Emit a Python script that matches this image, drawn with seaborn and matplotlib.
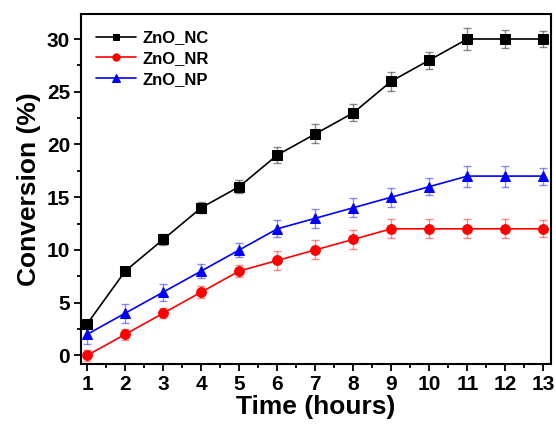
import matplotlib
matplotlib.use("Agg")
import matplotlib.pyplot as plt
import seaborn as sns
import pandas as pd
import numpy as np
from matplotlib.ticker import MultipleLocator

hours = [1, 2, 3, 4, 5, 6, 7, 8, 9, 10, 11, 12, 13]
nc = [3, 8, 11, 14, 16, 19, 21, 23, 26, 28, 30, 30, 30]
nr = [0, 2, 4, 6, 8, 9, 10, 11, 12, 12, 12, 12, 12]
np_ = [2, 4, 6, 8, 10, 12, 13, 14, 15, 16, 17, 17, 17]
nc_err = [0.4, 0.4, 0.5, 0.5, 0.6, 0.8, 0.9, 0.8, 0.9, 0.8, 1.0, 0.9, 0.8]
nr_err = [0.5, 0.5, 0.5, 0.6, 0.6, 0.9, 0.9, 0.9, 0.9, 0.9, 0.9, 0.9, 0.8]
np_err = [0.9, 0.9, 0.8, 0.7, 0.7, 0.8, 0.9, 0.9, 0.9, 0.8, 1.0, 1.0, 0.8]
labels = ["ZnO_NC", "ZnO_NR", "ZnO_NP"]
colors = ["black", "#ff0000", "#0000ff"]
markers = ["s", "o", "^"]

sns.set_style("ticks")
plt.rcParams['font.family'] = ['Liberation Sans', 'DejaVu Sans']
plt.rcParams['font.weight'] = 'bold'
plt.rcParams['text.color'] = 'black'
plt.rcParams['axes.labelcolor'] = 'black'
plt.rcParams['xtick.color'] = 'black'
plt.rcParams['ytick.color'] = 'black'
plt.rcParams['axes.edgecolor'] = 'black'

df = pd.concat([
    pd.DataFrame({"Time": hours, "Conversion": v, "err": e, "Sample": l})
    for v, e, l in zip([nc, nr, np_], [nc_err, nr_err, np_err], labels)
])

fig = plt.figure(figsize=(5.56, 4.28), dpi=100)
ax = fig.add_axes([0.146, 0.15, 0.845, 0.818])

for (lab, col, mk, ms) in zip(labels, colors, markers, [6.5, 7, 7]):
    sub = df[df.Sample == lab]
    ax.errorbar(sub.Time, sub.Conversion, yerr=sub.err, fmt="none",
                ecolor=col, alpha=0.45, elinewidth=1, capsize=3, capthick=1, zorder=2)
    sns.lineplot(data=sub, x="Time", y="Conversion", ax=ax, color=col,
                 marker=mk, markersize=ms, markeredgecolor=col, linewidth=1.2,
                 label=lab, zorder=3)

ax.set_xlim(0.84, 13.2)
ax.set_ylim(-0.8, 32.4)
ax.xaxis.set_major_locator(MultipleLocator(1))
ax.xaxis.set_minor_locator(MultipleLocator(0.5))
ax.yaxis.set_major_locator(MultipleLocator(5))
ax.yaxis.set_minor_locator(MultipleLocator(2.5))
ax.tick_params(which="major", direction="out", length=5, width=1.3, labelsize=15, pad=3)
ax.tick_params(which="minor", direction="out", length=3, width=1.3)
for s in ax.spines.values():
    s.set_linewidth(1.5)
    s.set_visible(True)
ax.set_xlabel("Time (hours)", fontsize=19, fontweight="bold", labelpad=1)
ax.set_ylabel("Conversion (%)", fontsize=19, fontweight="bold", labelpad=4)
for t in ax.get_xticklabels() + ax.get_yticklabels():
    t.set_fontweight("bold")

leg = ax.legend(loc="upper left", frameon=False, fontsize=12, handlelength=2.4,
                borderaxespad=0.5, labelspacing=0.35, handletextpad=0.4,
                bbox_to_anchor=(0.0, 0.995), markerscale=0.75)
for t in leg.get_texts():
    t.set_fontweight("bold")

fig.savefig("out.png", dpi=100)
